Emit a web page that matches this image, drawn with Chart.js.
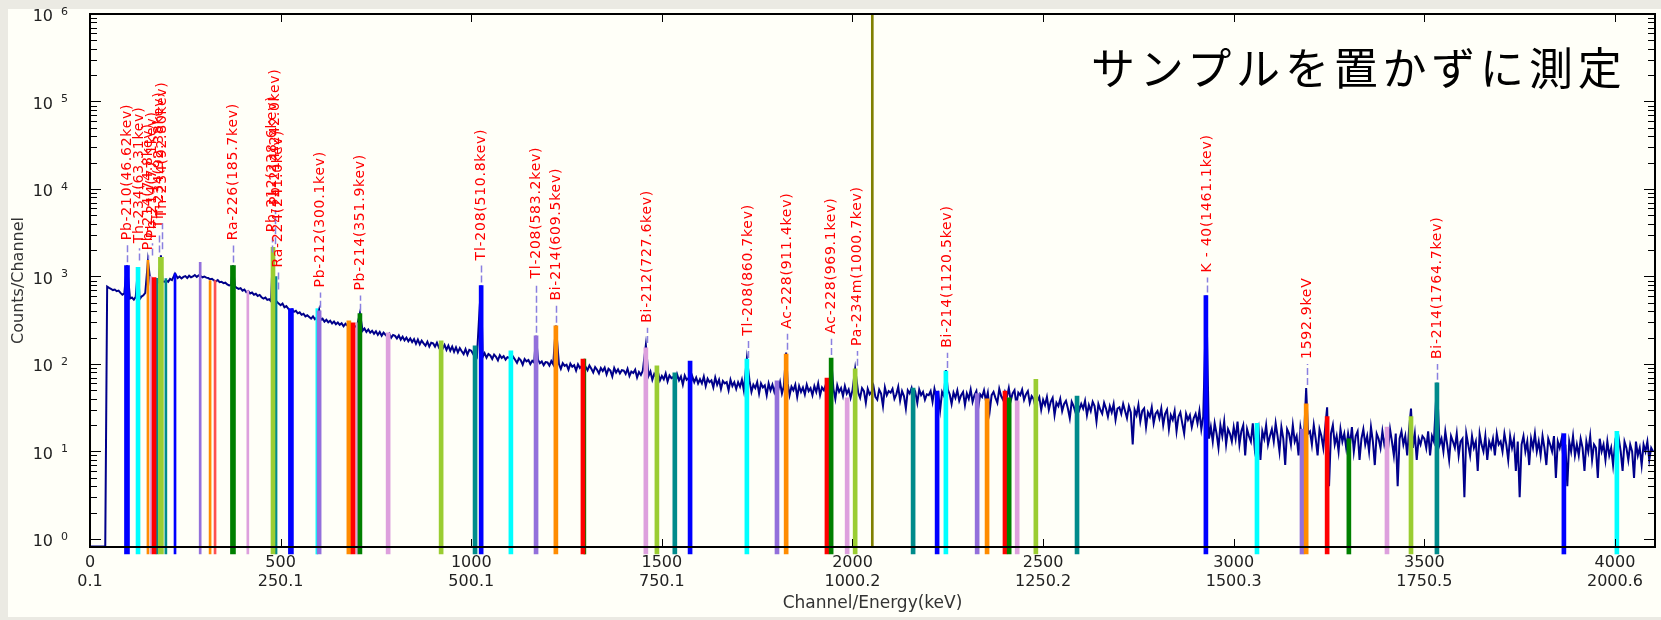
<!DOCTYPE html>
<html>
<head>
<meta charset="utf-8">
<script src="https://cdn.jsdelivr.net/npm/chart.js@4.4.1/dist/chart.umd.min.js"></script>
<style>
  html, body { margin: 0; padding: 0; background: #ebeae3; }
  body { width: 1661px; height: 620px; position: relative; overflow: hidden; }
  #panel { position: absolute; left: 8px; top: 9px; right: 0; bottom: 3px; background: #fffff8; }
  #chart { position: absolute; left: 0; top: 0; }
  #titulo { position: absolute; left: 1091px; top: 44px; font-family: "Noto Sans CJK JP"; font-size: 44px;
            line-height: 44px; letter-spacing: 4.8px; color: #000; white-space: nowrap; }
</style>
</head>
<body>
<div id="panel"></div>
<canvas id="chart" width="1661" height="620"></canvas>
<div id="titulo">サンプルを置かずに測定</div>
<script>
// espectro: un valor cada 5 canales desde el canal 0
const spectrumStart = 0;
const spectrumStep = 5;
const spectrumCounts = [
  0.82, 0.82, 0.82, 0.82, 0.82, 0.82, 0.82, 0.82, 0.82, 765, 740, 720, 700, 710, 680, 690, 650, 620, 640, 600,
  590, 560, 575, 545, 585, 560, 550, 590, 610, 650, 700, 740, 770, 810, 790, 840, 860, 830, 880, 870,
  900, 870, 940, 910, 975, 940, 960, 1000, 950, 990, 1010, 960, 1020, 980, 1000, 1040, 990, 1030, 1010, 980,
  1000, 970, 960, 930, 940, 900, 880, 910, 860, 870, 840, 850, 810, 790, 800, 760, 775, 740, 720, 735,
  690, 710, 660, 680, 640, 655, 620, 635, 600, 615, 580, 560, 575, 540, 550, 520, 530, 505, 515, 490,
  470, 490, 445, 460, 430, 405, 420, 395, 405, 380, 390, 365, 375, 350, 360, 345, 330, 350, 325, 340,
  340, 318, 330, 305, 320, 300, 312, 290, 305, 285, 298, 280, 292, 270, 288, 275, 262, 280, 258, 270,
  265, 250, 262, 240, 255, 232, 248, 228, 240, 222, 236, 215, 232, 210, 228, 216, 205, 222, 200, 215,
  210, 196, 212, 190, 205, 186, 200, 182, 196, 178, 192, 170, 190, 168, 185, 172, 162, 180, 158, 175,
  172, 158, 175, 155, 168, 150, 165, 145, 162, 142, 158, 138, 155, 136, 152, 140, 130, 148, 128, 145,
  142, 130, 138, 124, 135, 128, 120, 133, 118, 130, 125, 114, 128, 121, 110, 126, 117, 123, 112, 120,
  118, 108, 121, 112, 103, 116, 110, 98, 114, 107, 111, 100, 109, 104, 95, 112, 102, 107, 97, 105,
  104, 96, 108, 99, 91, 104, 100, 88, 102, 95, 98, 86, 101, 93, 97, 84, 99, 90, 95, 82,
  93, 85, 96, 88, 80, 92, 86, 78, 90, 83, 91, 76, 88, 84, 72, 90, 80, 87, 78, 85,
  84, 77, 88, 73, 82, 79, 86, 70, 81, 75, 84, 68, 79, 73, 82, 66, 77, 71, 80, 65,
  73, 67, 78, 63, 74, 69, 71, 60, 76, 65, 72, 58, 74, 66, 69, 57, 72, 62, 70, 60,
  67, 60, 72, 56, 68, 62, 65, 54, 70, 58, 66, 52, 64, 60, 62, 50, 66, 56, 62, 52,
  62, 55, 66, 50, 60, 56, 64, 48, 58, 53, 62, 46, 60, 54, 57, 44, 60, 50, 58, 48,
  58, 50, 62, 46, 56, 52, 60, 44, 55, 50, 58, 42, 56, 48, 54, 45, 58, 49, 53, 44,
  56, 48, 60, 44, 54, 50, 58, 42, 55, 46, 52, 40, 57, 48, 53, 43, 56, 46, 51, 41,
  50, 44, 55, 47, 41, 53, 49, 36, 52, 45, 48, 56, 42, 39, 51, 46, 33, 54, 44, 49,
  47, 52, 40, 45, 55, 38, 49, 43, 31, 50, 46, 53, 41, 47, 36, 51, 44, 48, 39, 45,
  44, 49, 37, 52, 42, 46, 30, 48, 43, 39, 51, 45, 35, 47, 41, 50, 38, 44, 48, 34,
  46, 40, 51, 37, 44, 49, 32, 45, 42, 50, 38, 47, 29, 44, 48, 41, 36, 52, 43, 39,
  48, 42, 53, 38, 46, 50, 34, 47, 44, 51, 39, 45, 49, 36, 43, 40, 32, 38, 42, 30,
  39, 34, 42, 30, 37, 41, 26, 36, 33, 40, 29, 35, 38, 31, 24, 37, 33, 28, 36, 30,
  35, 31, 38, 26, 34, 29, 37, 33, 22, 35, 30, 27, 36, 31, 25, 33, 28, 35, 23, 31,
  32, 27, 35, 29, 24, 33, 28, 12, 30, 26, 34, 22, 29, 31, 19, 28, 25, 32, 21, 27,
  29, 24, 31, 20, 27, 30, 18, 26, 23, 29, 17, 25, 28, 21, 16, 27, 23, 26, 19, 24,
  27, 21, 29, 18, 25, 18, 20, 14, 19, 13, 21, 16, 11, 20, 15, 22, 12, 18, 16, 13,
  19, 14, 22, 12, 17, 20, 9, 18, 15, 13, 21, 11, 16, 19, 8, 17, 14, 20, 12, 15,
  18, 13, 21, 15, 10, 19, 14, 7, 18, 16, 12, 20, 13, 15, 9, 19, 14, 17, 11, 16,
  17, 12, 20, 14, 9, 18, 15, 11, 19, 13, 4, 16, 20, 12, 15, 10, 18, 13, 16, 11,
  16, 12, 19, 10, 15, 17, 8, 14, 18, 12, 15, 10, 19, 13, 7, 16, 14, 11, 17, 12,
  15, 11, 18, 13, 9, 16, 4, 14, 17, 12, 15, 9, 18, 13, 11, 16, 8, 14, 12, 15,
  14, 11, 17, 9, 15, 13, 7, 16, 12, 14, 10, 17, 12, 8, 15, 13, 11, 16, 9, 13,
  14, 3, 16, 12, 9, 15, 11, 13, 6, 16, 12, 10, 15, 8, 13, 11, 14, 9, 16, 12,
  13, 10, 16, 12, 8, 15, 11, 14, 6, 13, 3, 12, 15, 10, 13, 7, 14, 11, 16, 10,
  13, 9, 15, 11, 7, 14, 12, 10, 15, 5, 13, 11, 14, 8, 12, 4, 13, 10, 15, 9,
  12, 9, 14, 11, 6, 13, 10, 15, 8, 12, 11, 5, 14, 10, 12, 8, 13, 9, 11, 7,
  12, 9, 14, 10, 6, 13, 11, 8, 12, 10, 5, 13, 9, 11, 7, 12, 10, 13, 8, 11,
  10
];

// picos estrechos
const peakChannels = [97, 126, 152, 186, 223, 375, 480, 601, 708, 1022, 1026, 1170, 1222, 1458,
  1723, 1826, 1944, 2007, 2245, 2924, 2928, 3190, 3245, 3465, 3533];
const peakCounts = [1340, 1270, 1500, 1750, 1080, 1340, 2100, 420, 380, 440, 790, 210, 275, 165,
  116, 135, 117, 88, 85, 117, 605, 53, 32, 31, 61];

// colores de las ROI
const BLUE = '#0000ff', CYAN = '#00ffff', ORANGE = '#ff8c00', RED = '#ff0000', YGREEN = '#9acd32',
      TEAL = '#008b8b', GREEN = '#008000', PURPLE = '#9370db', PLUM = '#dda0dd', SALMON = '#ff5050';

// ROI anchas
const roiBoldChannels = [97, 186, 375, 527];
const roiBoldCounts = [1337, 1653, 1337, 429];
const roiBoldColors = [BLUE, YGREEN, GREEN, BLUE];

// ROI normales
const roiChannels = [126, 168, 480, 601, 679, 690, 708, 782, 921, 1010, 1026, 1104, 1170, 1222, 1293,
  1458, 1487, 1534, 1574, 1723, 1802, 1826, 1933, 1944, 1986, 2007, 2159, 2222, 2245, 2327, 2353,
  2400, 2411, 2432, 2481, 2589, 2927, 3061, 3179, 3190, 3245, 3302, 3402, 3465, 3533, 3866, 4005];
const roiCounts = [1269, 975, 2155, 406, 312, 296, 376, 227, 184, 161, 788, 141, 210, 273, 114,
  153, 95, 79, 108, 114, 64, 130, 69, 117, 41, 88, 53, 49, 83, 46, 40,
  49, 41, 38, 67, 43, 605, 21, 18, 35, 25, 14, 19, 25, 61, 16, 17];
const roiColors = [CYAN, RED, YGREEN, PURPLE, ORANGE, RED, GREEN, PLUM, YGREEN, TEAL, BLUE, CYAN, PURPLE, ORANGE, RED,
  PLUM, YGREEN, TEAL, BLUE, CYAN, PURPLE, ORANGE, RED, GREEN, PLUM, YGREEN, TEAL, BLUE, CYAN, PURPLE, ORANGE,
  RED, GREEN, PLUM, YGREEN, TEAL, BLUE, CYAN, PURPLE, ORANGE, RED, GREEN, PLUM, YGREEN, TEAL, BLUE, CYAN];

// ROI finas
const roiThinChannels = [152, 160, 176, 199, 223, 289, 315, 328, 414, 488, 595, 700, 1298];
const roiThinCounts = [1527, 1000, 950, 949, 1083, 1449, 900, 900, 690, 1000, 429, 296, 114];
const roiThinColors = [ORANGE, PLUM, TEAL, TEAL, BLUE, PURPLE, ORANGE, SALMON, PLUM, TEAL, CYAN, PLUM, GREEN];

const roiFloor = 0.674;
const cursorChannel = 2052;

// ejes
const channelTicks = [0, 500, 1000, 1500, 2000, 2500, 3000, 3500, 4000];
const energyTicks = ['0.1', '250.1', '500.1', '750.1', '1000.2', '1250.2', '1500.3', '1750.5', '2000.6'];
const decades = [0, 1, 2, 3, 4, 5, 6];

// etiquetas de picos
const labelTexts = ['Pb-210(46.62kev)', 'Th-234(63.31kev)', 'Pb-214(74.8kev)', 'Pb-214(77.1kev)',
  'Th-234(92.38kev)', 'Th-234(92.80kev)', 'Ra-226(185.7kev)', 'Pb-212(238.6kev)', 'Pb-214(242.0kev)',
  'Ra-224(241.0kev)', 'Pb-212(300.1kev)', 'Pb-214(351.9kev)', 'Tl-208(510.8kev)', 'Tl-208(583.2kev)',
  'Bi-214(609.5kev)', 'Bi-212(727.6kev)', 'Tl-208(860.7kev)', 'Ac-228(911.4kev)', 'Ac-228(969.1kev)',
  'Pa-234m(1000.7kev)', 'Bi-214(1120.5kev)', 'K - 40(1461.1kev)', '1592.9keV', 'Bi-214(1764.7kev)'];
const labelChannels = [97, 128, 152, 163, 181, 189, 375, 477, 485, 493, 603, 708, 1026, 1170,
  1222, 1461, 1726, 1828, 1944, 2012, 2248, 2930, 3192, 3533];
const labelTextCounts = [2593, 2393, 1990, 2730, 3560, 4643, 2593, 3206, 6546, 1269, 748, 690, 1527, 949,
  530, 296, 210, 252, 221, 161, 153, 1112, 114, 114];
const labelPeakCounts = [1340, 1410, 1449, 1610, 1740, 1890, 1337, 1740, 2155, 655, 406, 376, 788, 210,
  273, 161, 108, 134, 117, 88, 83, 605, 53, 61];

const spectrumPoints = spectrumCounts
  .map((c, i) => ({ x: spectrumStart + i * spectrumStep, y: c }))
  .filter(p => !peakChannels.some(ch => Math.abs(ch - p.x) < 4))
  .concat(peakChannels.map((ch, i) => ({ x: ch, y: peakCounts[i] })))
  .sort((a, b) => a.x - b.x);

function roiSet(chs, counts, colors, thickness) {
  return {
    type: 'bar',
    data: chs.map((ch, i) => ({ x: ch, y: [roiFloor, counts[i]] })),
    backgroundColor: colors,
    borderWidth: 0,
    barThickness: thickness,
    grouped: false,
    clip: false,
    order: 1
  };
}

const marcoEjes = {
  id: 'marcoEjes',
  afterDatasetsDraw(chart) {
    const { ctx, chartArea: a, scales: { x, y } } = chart;
    ctx.save();
    ctx.strokeStyle = '#000';
    ctx.lineWidth = 1;
    ctx.beginPath();
    decades.forEach(e => {
      for (let k = 1; k <= 9; k++) {
        if (e === 6 && k > 1) break;
        const py = Math.round(y.getPixelForValue(k * Math.pow(10, e))) + 0.5;
        const len = k === 1 ? 11 : 7;
        ctx.moveTo(a.left, py); ctx.lineTo(a.left + len, py);
        ctx.moveTo(a.right, py); ctx.lineTo(a.right - len, py);
      }
    });
    channelTicks.forEach(v => {
      const px = Math.round(x.getPixelForValue(v)) + 0.5;
      ctx.moveTo(px, a.bottom); ctx.lineTo(px, a.bottom - 8);
      ctx.moveTo(px, a.top); ctx.lineTo(px, a.top + 8);
    });
    ctx.stroke();
    ctx.lineWidth = 2;
    ctx.strokeRect(a.left, a.top, a.right - a.left, a.bottom - a.top);

    // etiquetas del eje y: 10 con exponente
    ctx.fillStyle = '#222';
    ctx.textBaseline = 'middle';
    decades.forEach(e => {
      const py = y.getPixelForValue(Math.pow(10, e));
      ctx.font = '16px "DejaVu Sans"';
      ctx.textAlign = 'right';
      ctx.fillText('10', a.left - 37, py + 3);
      ctx.font = '11px "DejaVu Sans"';
      ctx.textAlign = 'left';
      ctx.fillText(String(e), a.left - 29, py - 2);
    });

    // etiquetas de los picos
    labelTexts.forEach((t, i) => {
      const px = Math.round(x.getPixelForValue(labelChannels[i])) + 0.5;
      const yText = y.getPixelForValue(labelTextCounts[i]);
      const yPeak = y.getPixelForValue(labelPeakCounts[i]);
      ctx.save();
      ctx.strokeStyle = '#8a80e0';
      ctx.lineWidth = 1.5;
      ctx.setLineDash([7, 3]);
      ctx.beginPath();
      ctx.moveTo(px, yPeak - 3);
      ctx.lineTo(px, yText + 5);
      ctx.stroke();
      ctx.translate(px, yText);
      ctx.rotate(-Math.PI / 2);
      ctx.font = '14px "DejaVu Sans"';
      ctx.letterSpacing = '0.75px';
      ctx.fillStyle = '#ff0000';
      ctx.textAlign = 'left';
      ctx.textBaseline = 'middle';
      ctx.fillText(t, 0, 0);
      ctx.restore();
    });
    ctx.restore();
  }
};

new Chart(document.getElementById('chart'), {
  type: 'line',
  data: {
    datasets: [
      {
        type: 'bar',
        data: [{ x: cursorChannel, y: [0.81, 1e6] }],
        backgroundColor: '#808000',
        borderWidth: 0,
        barThickness: 2,
        grouped: false,
        order: 0
      },
      roiSet(roiBoldChannels, roiBoldCounts, roiBoldColors, 5),
      roiSet(roiChannels, roiCounts, roiColors, 4),
      roiSet(roiThinChannels, roiThinCounts, roiThinColors, 2),
      {
        type: 'line',
        data: spectrumPoints,
        borderColor: '#00008b',
        borderWidth: 2,
        pointRadius: 0,
        tension: 0,
        order: 2
      }
    ]
  },
  options: {
    responsive: false,
    devicePixelRatio: 1,
    animation: false,
    layout: { padding: { top: 14, right: 6, left: 0, bottom: 0 } },
    plugins: { legend: { display: false }, tooltip: { enabled: false } },
    scales: {
      x: {
        type: 'linear',
        min: 0,
        max: 4105,
        offset: false,
        grid: { display: false, drawTicks: false },
        border: { display: false },
        afterFit: s => { s.height = 73; },
        afterBuildTicks: s => { s.ticks = channelTicks.map(v => ({ value: v })); },
        ticks: {
          padding: 6.5,
          color: '#222',
          font: { family: 'DejaVu Sans', size: 16 },
          maxRotation: 0,
          autoSkip: false,
          callback: (v, i) => [String(v), energyTicks[i]]
        },
        title: {
          display: true,
          text: 'Channel/Energy(keV)',
          color: '#333',
          font: { family: 'DejaVu Sans', size: 17 },
          padding: { top: 4, bottom: 6 }
        }
      },
      y: {
        type: 'logarithmic',
        min: 0.81,
        max: 1e6,
        grid: { display: false, drawTicks: false },
        border: { display: false },
        ticks: { display: false },
        afterFit: s => { s.width = 90; },
        title: {
          display: true,
          text: 'Counts/Channel',
          color: '#333',
          font: { family: 'DejaVu Sans', size: 16 },
          padding: { top: 9, bottom: 0 }
        }
      }
    }
  },
  plugins: [marcoEjes]
});
</script>
</body>
</html>
